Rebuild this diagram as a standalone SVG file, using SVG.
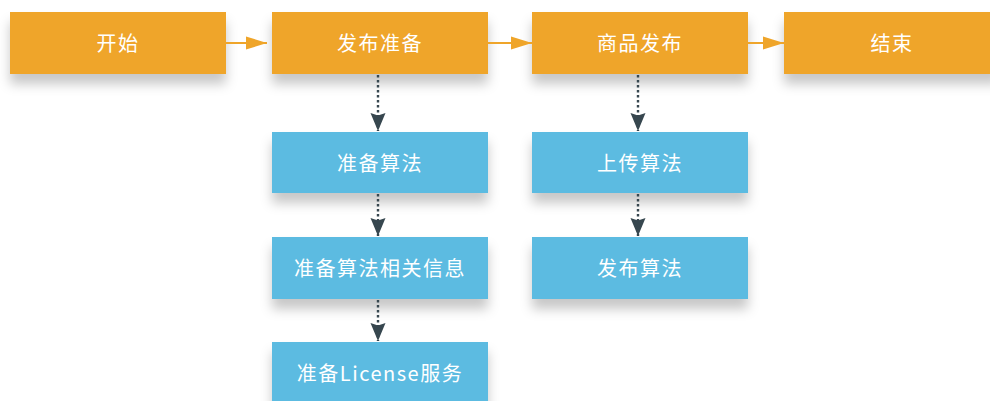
<svg xmlns="http://www.w3.org/2000/svg" width="990" height="401" viewBox="0 0 990 401">
<defs>
<filter id="sh" x="-20%" y="-30%" width="140%" height="200%">
<feDropShadow dx="0" dy="10" stdDeviation="6" flood-color="#000" flood-opacity="0.22"/>
</filter>
<marker id="ao" markerWidth="22" markerHeight="16" refX="21" refY="8" orient="auto" markerUnits="userSpaceOnUse">
<path d="M0,1.5 L21,8 L0,14.5 Z" fill="#EFA52A"/>
</marker>
<marker id="ad" markerWidth="16" markerHeight="20" refX="8" refY="19" orient="0" markerUnits="userSpaceOnUse">
<path d="M0.5,1 L8,3.5 L15.5,1 L8,19 Z" fill="#37474F"/>
</marker>
</defs>
<style>
.o{fill:#EFA52A;filter:url(#sh)}
.b{fill:#5BBBE1;filter:url(#sh)}
.t{fill:#fff;font-family:"Noto Sans CJK SC","Noto Sans",sans-serif;font-size:20px;letter-spacing:1.5px;text-anchor:middle;dominant-baseline:central}
.h{stroke:#EFA52A;stroke-width:2;fill:none;marker-end:url(#ao)}
.v{stroke:#37474F;stroke-width:2.4;stroke-dasharray:2.5,2.5;fill:none;marker-end:url(#ad)}
</style>
<rect width="990" height="401" fill="#fff"/>
<g id="n1"><rect class="o" x="10" y="12" width="216" height="62"/><text class="t" x="118" y="42">开始</text></g>
<g id="n2"><rect class="o" x="272" y="12" width="216" height="62"/><text class="t" x="380" y="42">发布准备</text></g>
<g id="n3"><rect class="o" x="532" y="12" width="216" height="62"/><text class="t" x="640" y="42">商品发布</text></g>
<g id="n4"><rect class="o" x="784" y="12" width="216" height="62"/><text class="t" x="892" y="42">结束</text></g>
<g id="n5"><rect class="b" x="272" y="132" width="216" height="61"/><text class="t" x="380" y="162">准备算法</text></g>
<g id="n6"><rect class="b" x="272" y="237" width="216" height="62"/><text class="t" x="380" y="267">准备算法相关信息</text></g>
<g id="n7"><rect class="b" x="272" y="342" width="216" height="62"/><text class="t" x="380" y="372">准备License服务</text></g>
<g id="n8"><rect class="b" x="532" y="132" width="216" height="61"/><text class="t" x="640" y="162">上传算法</text></g>
<g id="n9"><rect class="b" x="532" y="237" width="216" height="62"/><text class="t" x="640" y="267">发布算法</text></g>
<g id="connectors">
<path class="h" d="M226,43 L267,43"/>
<path class="h" d="M488,43 L532,43"/>
<path class="h" d="M748,43 L784,43"/>
<path class="v" d="M378,75 L378,131"/>
<path class="v" d="M378,194 L378,236"/>
<path class="v" d="M378,300 L378,341"/>
<path class="v" d="M638,75 L638,131"/>
<path class="v" d="M638,194 L638,236"/>
</g>
</svg>
